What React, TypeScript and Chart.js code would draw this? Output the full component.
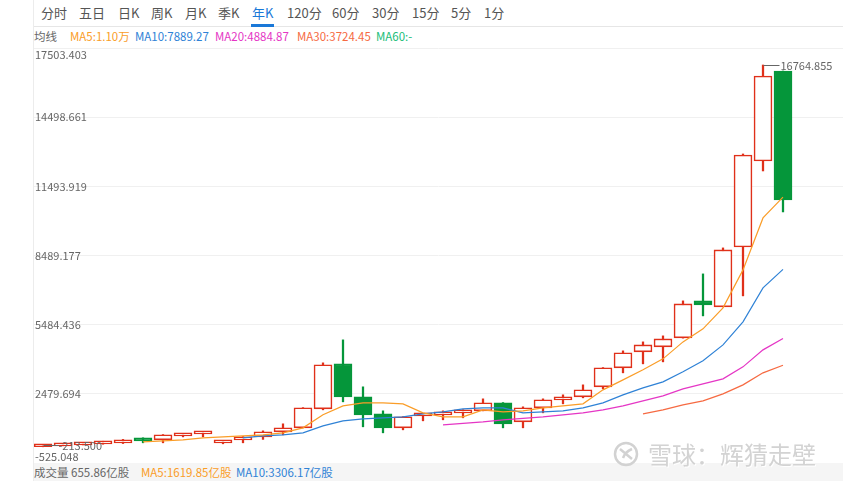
import React, { useEffect, useRef } from 'react';
import { Chart, registerables } from 'chart.js';

Chart.register(...registerables);

// ---------- data ----------
const tabs = ['分时', '五日', '日K', '周K', '月K', '季K', '年K', '120分', '60分', '30分', '15分', '5分', '1分'];
const activeTab = '年K';

const opens = [179, 222, 265, 309, 352, 526, 482, 656, 743, 352, 482, 613, 830, 1003, 1828, 3782, 2349, 1611, 1003, 1524, 1568, 1655, 1741, 2089, 1264, 1872, 2219, 2349, 2784, 3609, 4303, 4520, 4911, 6518, 6257, 8862, 12597, 16504];
const highs = [280, 320, 360, 420, 500, 570, 710, 760, 840, 445, 620, 873, 1177, 1880, 3826, 4824, 2784, 1741, 1490, 1620, 1741, 1790, 2262, 2100, 1915, 2262, 2436, 2870, 3620, 4347, 4737, 4998, 6518, 7690, 8819, 12900, 16764.855, 16504];
const lows = [179, 222, 260, 290, 320, 352, 352, 610, 610, 309, 352, 500, 699, 1000, 1785, 2132, 1047, 786, 916, 1307, 1351, 1438, 1741, 1003, 1003, 1655, 2045, 2306, 2697, 3392, 3782, 3869, 4900, 5866, 6257, 6735, 12162, 10382];
const closes = [265, 309, 352, 396, 482, 439, 699, 743, 830, 439, 613, 830, 1003, 1872, 3739, 2349, 1568, 1003, 1481, 1611, 1655, 1785, 2089, 1177, 1872, 2219, 2306, 2653, 3609, 4260, 4607, 4868, 6387, 6344, 8732, 12857, 16287, 10903];

const ma5Start = 5;
const ma5 = [396, 439, 482, 569, 613, 656, 699, 786, 1003, 1568, 1958, 2089, 2089, 2045, 1655, 1481, 1481, 1785, 1698, 1741, 1872, 1958, 2045, 2653, 3087, 3522, 4000, 4737, 5302, 6214, 7864, 10122, 11025];
const ma10Start = 10;
const ma10 = [570, 656, 699, 786, 1090, 1307, 1394, 1438, 1481, 1611, 1698, 1828, 1872, 1872, 1655, 1698, 1741, 1872, 2089, 2436, 2740, 3001, 3435, 3913, 4607, 5606, 7082, 7889];
const ma20Start = 20;
const ma20 = [1134, 1199, 1264, 1351, 1416, 1481, 1568, 1655, 1785, 1958, 2176, 2393, 2697, 2914, 3131, 3652, 4390, 4885];
const ma30Start = 30;
const ma30 = [1611, 1785, 2002, 2176, 2480, 2870, 3392, 3724];

const yTicks = [-525.048, 2479.694, 5484.436, 8489.177, 11493.919, 14498.661, 17503.403];
const yTickLabels = ['-525.048', '2479.694', '5484.436', '8489.177', '11493.919', '14498.661', '17503.403'];
const lowMarkLabel = '-213.500';

const maLegend = [
  { text: 'MA5:1.10万', color: '#fa9d28', left: 70 },
  { text: 'MA10:7889.27', color: '#2f82d6', left: 135 },
  { text: 'MA20:4884.87', color: '#e536c5', left: 215 },
  { text: 'MA30:3724.45', color: '#f66a42', left: 297 },
  { text: 'MA60:-', color: '#21bd78', left: 376 },
];
const volLegend = [
  { text: '成交量 655.86亿股', color: '#666666', left: 34 },
  { text: 'MA5:1619.85亿股', color: '#fa9d28', left: 141 },
  { text: 'MA10:3306.17亿股', color: '#2f82d6', left: 236 },
];
const tabLefts = [41, 79, 118, 151, 185, 218, 252, 287, 332, 372, 412, 451, 484];

const RED = '#e0301a';
const GREEN = '#05963a';
const FONT = '"Noto Sans CJK SC", "Noto Sans", sans-serif';

const maPoints = (start: number, arr: number[]) => arr.map((v, j) => ({ x: start + j, y: v }));

const overlayPlugin = {
  id: 'overlay',
  afterDraw(chart: any) {
    const { ctx, chartArea, scales } = chart;
    const ys = scales.y;
    const xs = scales.x;
    ctx.save();
    ctx.font = '11px ' + FONT;
    ctx.fillStyle = '#666';
    ctx.textAlign = 'left';
    yTicks.forEach((v, i) => {
      const py = ys.getPixelForValue(v);
      let ty = py;
      let bl: CanvasTextBaseline = 'middle';
      if (i === 0) { bl = 'bottom'; ty = py - 1; }
      else if (i === yTicks.length - 1) { bl = 'top'; ty = py + 1; }
      ctx.textBaseline = bl;
      ctx.fillText(yTickLabels[i], chartArea.left + 1, ty);
    });
    // high marker
    let hi = 0;
    highs.forEach((h, i) => { if (h > highs[hi]) hi = i; });
    const hx = Math.round(xs.getPixelForValue(hi)) + 0.5;
    const hy = Math.round(ys.getPixelForValue(highs[hi])) + 0.5;
    ctx.strokeStyle = '#666';
    ctx.lineWidth = 1;
    ctx.beginPath();
    ctx.moveTo(hx, hy);
    ctx.lineTo(hx + 16, hy);
    ctx.stroke();
    ctx.textBaseline = 'middle';
    ctx.fillText(highs[hi].toFixed(3), hx + 17, hy);
    // low marker
    let lo = 0;
    lows.forEach((l, i) => { if (l < lows[lo]) lo = i; });
    const lx = Math.round(xs.getPixelForValue(lo)) + 0.5;
    const ly = Math.round(ys.getPixelForValue(closes[lo])) + 0.5;
    ctx.beginPath();
    ctx.moveTo(lx, ly);
    ctx.lineTo(lx + 15, ly);
    ctx.stroke();
    ctx.fillText(lowMarkLabel, lx + 15, ly);
    ctx.restore();
  },
};

function CandleChart() {
  const ref = useRef<HTMLCanvasElement | null>(null);
  useEffect(() => {
    if (!ref.current) return;
    const up = closes.map((c, i) => c >= opens[i]);
    const bodyData = opens.map((o, i) => ({ x: i, y: [o, closes[i]] }));
    const wickData = lows.map((l, i) => ({ x: i, y: [l, highs[i]] }));
    const lineDs = (label: string, start: number, arr: number[], color: string) => ({
      type: 'line' as const,
      label,
      data: maPoints(start, arr),
      borderColor: color,
      borderWidth: 1.2,
      pointRadius: 0,
      tension: 0,
      fill: false,
      order: -1,
    });
    const chart = new Chart(ref.current, {
      type: 'bar',
      data: {
        datasets: [
          lineDs('MA5', ma5Start, ma5, '#fa9d28'),
          lineDs('MA10', ma10Start, ma10, '#2f82d6'),
          lineDs('MA20', ma20Start, ma20, '#e536c5'),
          lineDs('MA30', ma30Start, ma30, '#f66a42'),
          {
            type: 'bar',
            label: 'body',
            data: bodyData as any,
            backgroundColor: up.map((u) => (u ? '#ffffff' : GREEN)),
            borderColor: up.map((u) => (u ? RED : GREEN)),
            borderWidth: 1.6,
            borderSkipped: false,
            barThickness: 18,
            grouped: false,
            minBarLength: 3,
            order: 0,
          } as any,
          {
            type: 'bar',
            label: 'wick',
            data: wickData as any,
            backgroundColor: up.map((u) => (u ? RED : GREEN)),
            borderWidth: 0,
            barThickness: 1.6,
            grouped: false,
            order: 1,
          } as any,
        ],
      },
      options: {
        animation: false,
        responsive: true,
        maintainAspectRatio: false,
        layout: { padding: 0 },
        plugins: { legend: { display: false }, tooltip: { enabled: false } },
        scales: {
          x: { type: 'linear', min: -0.45, max: 40.0, offset: false, grid: { offset: false }, display: false },
          y: {
            type: 'linear',
            min: yTicks[0],
            max: yTicks[yTicks.length - 1],
            afterBuildTicks: (s: any) => { s.ticks = yTicks.map((v) => ({ value: v })); },
            ticks: { display: false },
            grid: { color: '#f0f0f0', drawTicks: false },
            border: { display: false },
          },
        },
      },
      plugins: [overlayPlugin],
    });
    return () => chart.destroy();
  }, []);
  return <canvas ref={ref} />;
}

export default function App() {
  return (
    <div style={{ position: 'absolute', left: 0, top: 0, width: 843, height: 481, overflow: 'hidden', background: '#fff', fontFamily: FONT }}>
      <div style={{ position: 'absolute', left: 33, top: 0, width: 1, height: 481, background: '#ececec' }} />
      <div style={{ position: 'absolute', left: 34, top: 26, width: 809, height: 1, background: '#e6e6e6' }} />
      {tabs.map((t, i) => (
        <div key={t} style={{ position: 'absolute', left: tabLefts[i], top: 0, height: 26, lineHeight: '26px', fontSize: 13, color: t === activeTab ? '#1a78d8' : '#555', whiteSpace: 'nowrap' }}>
          {t}
        </div>
      ))}
      <div style={{ position: 'absolute', left: 251, top: 24, width: 23, height: 3, background: '#1a78d8' }} />
      <div style={{ position: 'absolute', left: 34, top: 28, height: 16, lineHeight: '16px', fontSize: 11.5, color: '#666' }}>均线</div>
      {maLegend.map((m) => (
        <div key={m.text} style={{ position: 'absolute', left: m.left, top: 28, height: 16, lineHeight: '16px', fontSize: 11.5, color: m.color, whiteSpace: 'nowrap' }}>
          {m.text}
        </div>
      ))}
      <div style={{ position: 'absolute', left: 34, top: 463, width: 809, height: 18, background: '#f5f5f5' }} />
      {volLegend.map((m) => (
        <div key={m.text} style={{ position: 'absolute', left: m.left, top: 464, height: 16, lineHeight: '16px', fontSize: 11.5, color: m.color, whiteSpace: 'nowrap' }}>
          {m.text}
        </div>
      ))}
      <div style={{ position: 'absolute', left: 34, top: 48, width: 809, height: 415 }}>
        <CandleChart />
      </div>
      <div style={{ position: 'absolute', left: 612, top: 441, height: 26, display: 'flex', alignItems: 'center', pointerEvents: 'none' }}>
        <svg width="30" height="26" viewBox="0 0 30 26" style={{ marginRight: 6 }}>
          <circle cx="14" cy="13" r="11" fill="none" stroke="#d2d2d2" strokeWidth="2.5" />
          <path d="M8 8 Q14 13 20 18 M20 8 Q13 11 11 17" fill="none" stroke="#d2d2d2" strokeWidth="2.5" />
        </svg>
        <span style={{ fontSize: 24, lineHeight: '26px', color: '#d3d3d3', textShadow: '1px 1px 0 #ffffff', whiteSpace: 'nowrap' }}>雪球：辉猜走壁</span>
      </div>
    </div>
  );
}
